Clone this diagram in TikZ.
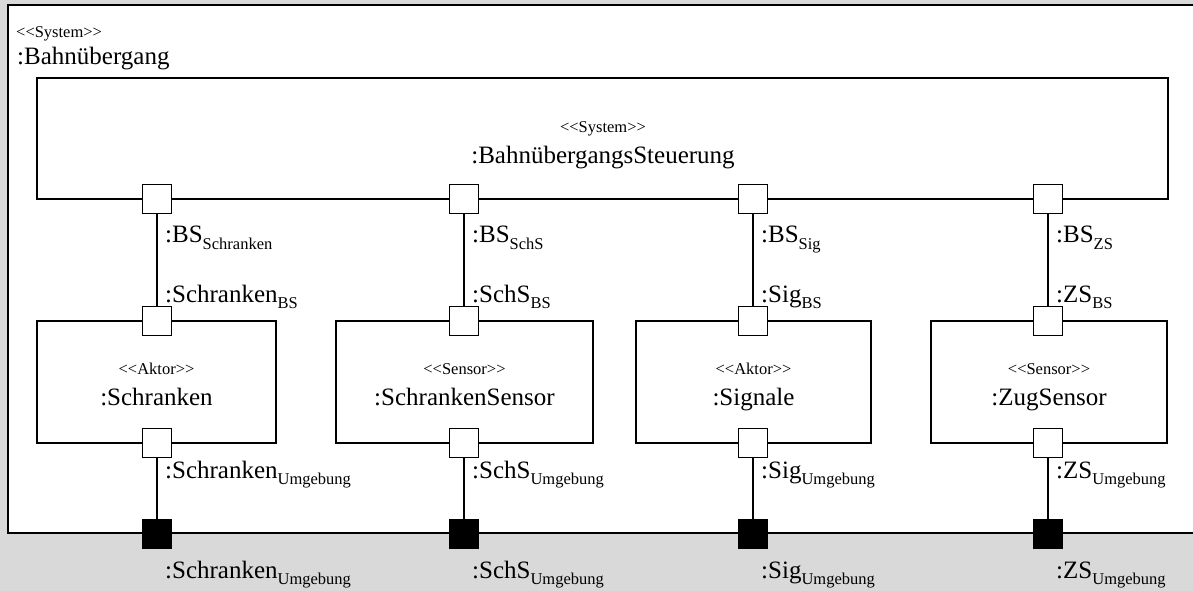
\documentclass[tikz,border=0pt]{standalone}
\usepackage{fontspec}
\setmainfont{Liberation Serif}
\definecolor{envgray}{RGB}{217,217,217}
% lowered, smaller index text for port names
\newcommand\portsub[1]{\raisebox{-6.5pt}{\fontsize{16.5}{20}\selectfont #1}}
\newcommand\stereotype[1]{{<}{<}#1{>}{>}}
\begin{document}
\begin{tikzpicture}[x=1pt,y=-1pt,
  boxline/.style={line width=1.8pt},
  frame/.style={draw, boxline, fill=white, inner sep=0pt, outer sep=0pt},
  port/.style={draw, boxline, fill=white, minimum size=29pt, inner sep=0pt, outer sep=0pt},
  extport/.style={port, fill=black},
  wire/.style={boxline},
  title/.style={font=\fontsize{25}{30}\selectfont, inner sep=0pt, anchor=base},
  stereo/.style={font=\fontsize{16.5}{20}\selectfont, inner sep=0pt, anchor=base},
  plabel/.style={font=\fontsize{25}{30}\selectfont, inner sep=0pt, anchor=base west},
]
\useasboundingbox (0,0) rectangle (1193,591);
% environment
\fill[envgray] (0,0) rectangle (1193,591);
% outer system
\fill[white] (8,5) rectangle (1196,533);
\draw[boxline] (1196,5) -- (8,5) -- (8,533) -- (1196,533);
\node[stereo, anchor=base west] (sysst) at (16,38) {\stereotype{System}};
\node[plabel] (systitle) at (17,65) {:Bahnübergang};

% controller
\node[frame, minimum width=1131pt, minimum height=121pt] (ctrl) at (602.5,138.5) {};
\node[stereo] (ctrlst) at (603,132) {\stereotype{System}};
\node[title] (ctrltitle) at (603,163) {:BahnübergangsSteuerung};

% subsystems
\node[frame, minimum width=239pt, minimum height=122pt] (schr) at (156.5,382) {};
\node[frame, minimum width=257pt, minimum height=122pt] (schs) at (464.5,382) {};
\node[frame, minimum width=235pt, minimum height=122pt] (sig) at (753.5,382) {};
\node[frame, minimum width=236pt, minimum height=122pt] (zs) at (1049,382) {};

\node[stereo] (schrst) at (156.5,374) {\stereotype{Aktor}};
\node[title] (schrtitle) at (156.5,405) {:Schranken};
\node[stereo] (schsst) at (464.5,374) {\stereotype{Sensor}};
\node[title] (schstitle) at (464.5,405) {:SchrankenSensor};
\node[stereo] (sigst) at (753.5,374) {\stereotype{Aktor}};
\node[title] (sigtitle) at (753.5,405) {:Signale};
\node[stereo] (zsst) at (1049,374) {\stereotype{Sensor}};
\node[title] (zstitle) at (1049,405) {:ZugSensor};

% ports, connectors and port names
\foreach \i/\x/\n in {1/157/Schranken, 2/464/SchS, 3/753/Sig, 4/1048/ZS} {
  \node[port] (ct\i) at (\x,199) {};
  \node[port] (bt\i) at (\x,321) {};
  \node[port] (bb\i) at (\x,443) {};
  \node[extport] (ex\i) at (\x,534) {};
  \draw[wire] (ct\i.south) -- (bt\i.north);
  \draw[wire] (bb\i.south) -- (ex\i.north);
  \node[plabel] (lct\i) at (\x+8,242.5) {:BS\portsub{\n}};
  \node[plabel] (lbt\i) at (\x+8,302) {:\n\portsub{BS}};
  \node[plabel] (lbb\i) at (\x+8,478) {:\n\portsub{Umgebung}};
  \node[plabel] (lex\i) at (\x+8,578) {:\n\portsub{Umgebung}};
}
\end{tikzpicture}
\end{document}
